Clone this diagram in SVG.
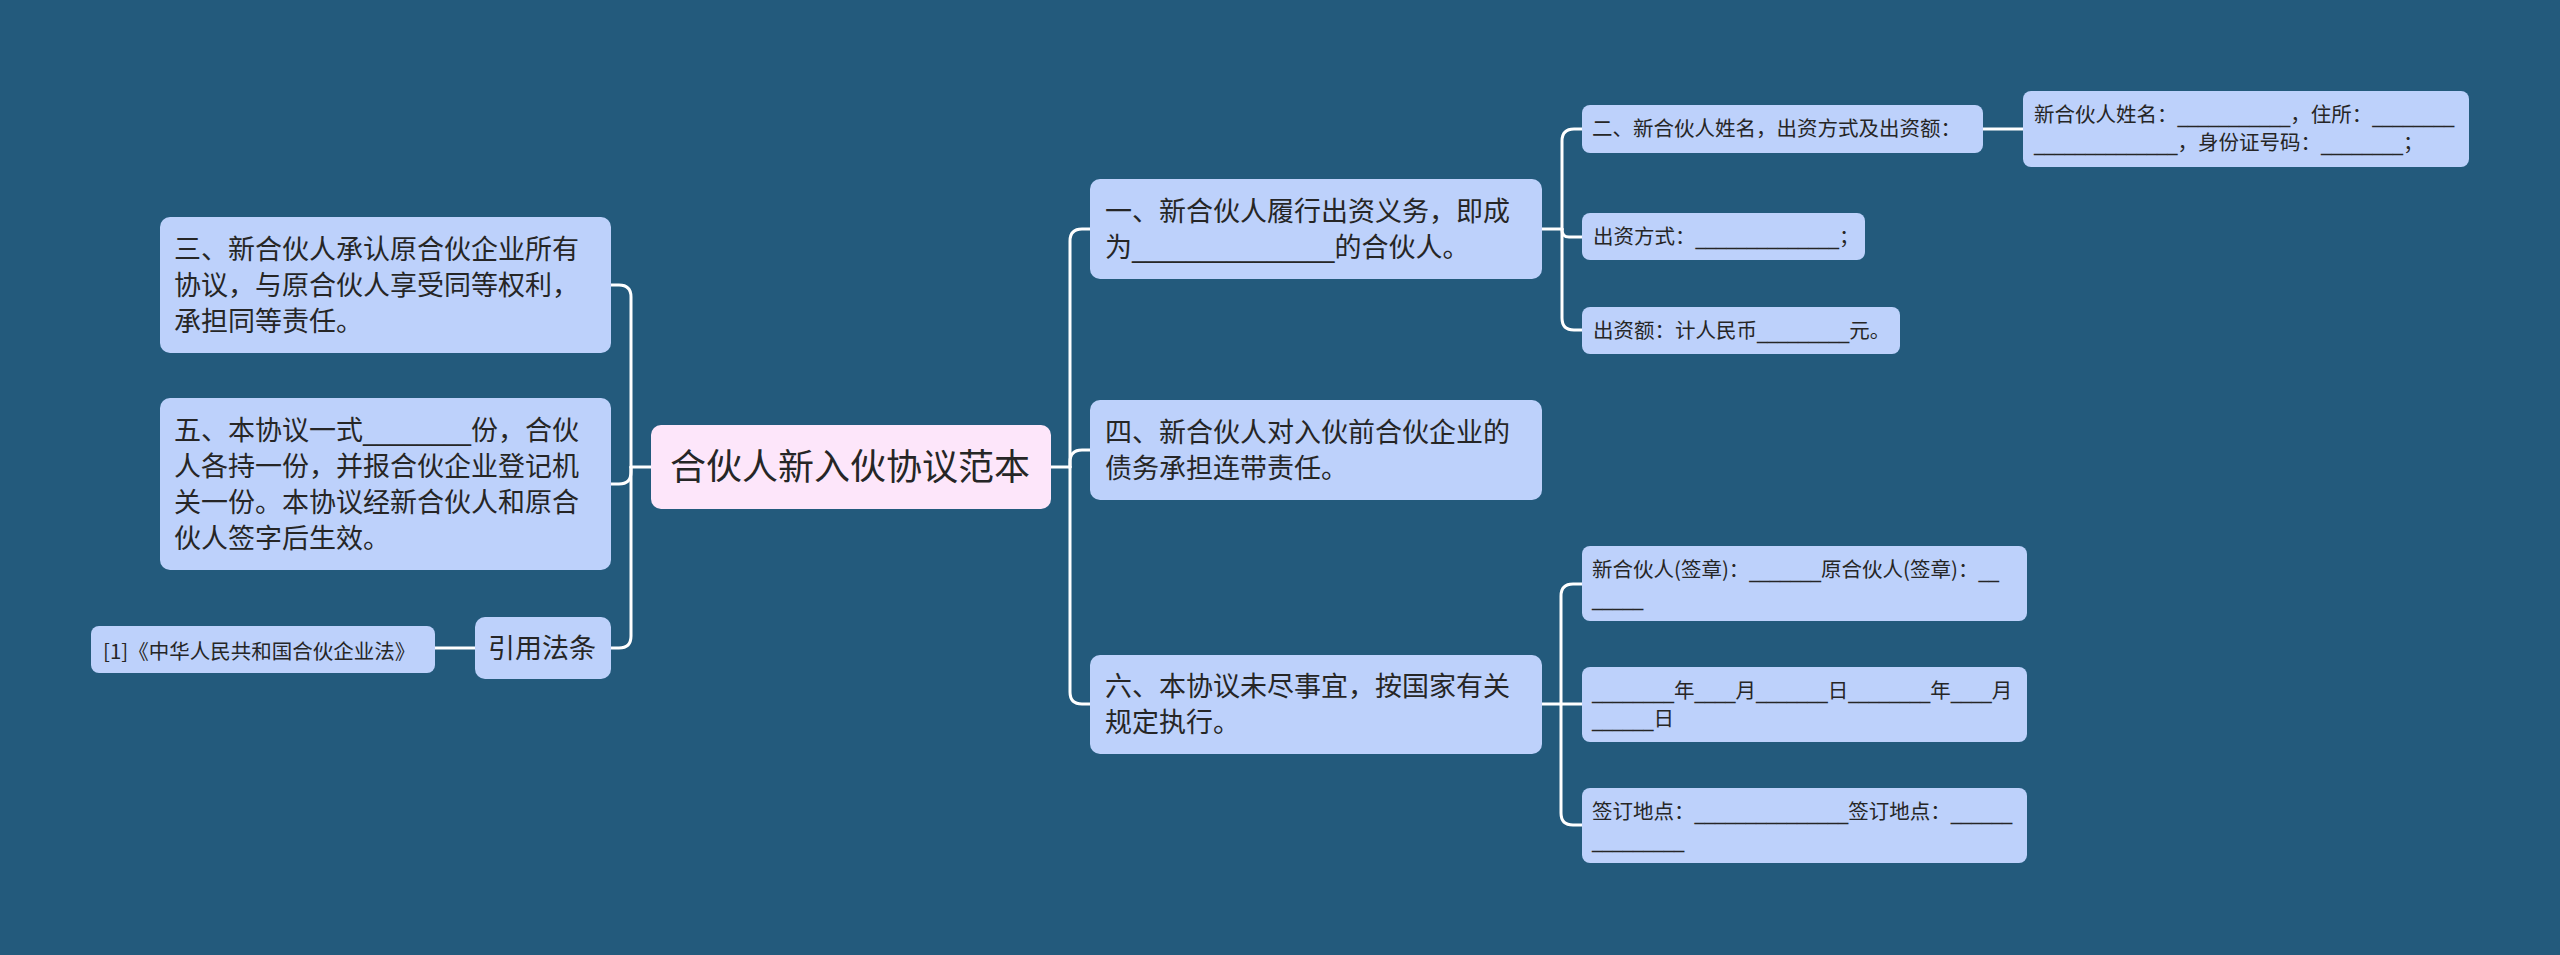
<svg xmlns="http://www.w3.org/2000/svg" width="2560" height="955" viewBox="0 0 2560 955">
<style>
.n{fill:#bdd1fb;}
.r{fill:#fde6fa;}
.t{font-family:"Noto Sans CJK SC","Noto Sans",sans-serif;fill:#262626;}
.u{font-family:"DejaVu Sans",sans-serif;}
.big{font-size:27px;}
.sm{font-size:20.5px;}
.root{font-size:36px;}
.c{stroke:#ffffff;stroke-width:3;fill:none;stroke-linecap:round;}
</style>
<rect x="0" y="0" width="2560" height="955" fill="#235a7c"/>
<g id="connectors">
<path class="c" d="M651 467 H631"/>
<path class="c" d="M631 467 V297 Q631 285 619 285 H611"/>
<path class="c" d="M631 467 V472 Q631 484 619 484 H611"/>
<path class="c" d="M631 467 V636 Q631 648 619 648 H611"/>
<path class="c" d="M475 648 H435"/>
<path class="c" d="M1051 467 H1070"/>
<path class="c" d="M1070 467 V241 Q1070 229 1082 229 H1090"/>
<path class="c" d="M1070 467 V462 Q1070 450 1082 450 H1090"/>
<path class="c" d="M1070 467 V692 Q1070 704 1082 704 H1090"/>
<path class="c" d="M1542 229 H1562"/>
<path class="c" d="M1562 229 V141 Q1562 129 1574 129 H1582"/>
<path class="c" d="M1562 229 V230 Q1562 237 1569 237 H1582"/>
<path class="c" d="M1562 229 V318 Q1562 330 1574 330 H1582"/>
<path class="c" d="M1983 129 H2023"/>
<path class="c" d="M1542 704 H1561"/>
<path class="c" d="M1561 704 V596 Q1561 584 1573 584 H1582"/>
<path class="c" d="M1561 704 H1582"/>
<path class="c" d="M1561 704 V813 Q1561 825 1573 825 H1582"/>
</g>
<g id="root">
<rect class="r" x="651" y="425" width="400" height="84" rx="10"/>
<text class="t root" x="670" y="480">合伙人新入伙协议范本</text>
</g>
<g id="node-san">
<rect class="n" x="160" y="217" width="451" height="136" rx="10"/>
<text class="t big"><tspan x="174" y="259">三、新合伙人承认原合伙企业所有</tspan><tspan x="174" y="295">协议，与原合伙人享受同等权利，</tspan><tspan x="174" y="331">承担同等责任。</tspan></text>
</g>
<g id="node-wu">
<rect class="n" x="160" y="398" width="451" height="172" rx="10"/>
<text class="t big"><tspan x="174" y="440">五、本协议一式<tspan class="u">________</tspan>份，合伙</tspan><tspan x="174" y="476">人各持一份，并报合伙企业登记机</tspan><tspan x="174" y="512">关一份。本协议经新合伙人和原合</tspan><tspan x="174" y="548">伙人签字后生效。</tspan></text>
</g>
<g id="node-yinyong">
<rect class="n" x="475" y="617" width="136" height="62" rx="10"/>
<text class="t big" x="488" y="658">引用法条</text>
</g>
<g id="node-fa">
<rect class="n" x="91" y="626" width="344" height="47" rx="8"/>
<text class="t sm" x="103" y="659">[1]《中华人民共和国合伙企业法》</text>
</g>
<g id="node-yi">
<rect class="n" x="1090" y="179" width="452" height="100" rx="10"/>
<text class="t big"><tspan x="1105" y="221">一、新合伙人履行出资义务，即成</tspan><tspan x="1105" y="257">为<tspan class="u">_______________</tspan>的合伙人。</tspan></text>
</g>
<g id="node-si">
<rect class="n" x="1090" y="400" width="452" height="100" rx="10"/>
<text class="t big"><tspan x="1105" y="442">四、新合伙人对入伙前合伙企业的</tspan><tspan x="1105" y="478">债务承担连带责任。</tspan></text>
</g>
<g id="node-liu">
<rect class="n" x="1090" y="655" width="452" height="99" rx="10"/>
<text class="t big"><tspan x="1105" y="696">六、本协议未尽事宜，按国家有关</tspan><tspan x="1105" y="732">规定执行。</tspan></text>
</g>
<g id="node-er">
<rect class="n" x="1582" y="105" width="401" height="48" rx="8"/>
<text class="t sm" x="1592" y="136">二、新合伙人姓名，出资方式及出资额：</text>
</g>
<g id="node-xingming">
<rect class="n" x="2023" y="91" width="446" height="76" rx="8"/>
<text class="t sm"><tspan x="2034" y="122">新合伙人姓名：<tspan class="u">___________</tspan>，住所：<tspan class="u">________</tspan></tspan><tspan x="2034" y="150"><tspan class="u">______________</tspan>，身份证号码：<tspan class="u">________</tspan>；</tspan></text>
</g>
<g id="node-fangshi">
<rect class="n" x="1582" y="213" width="283" height="47" rx="8"/>
<text class="t sm" x="1593" y="244">出资方式：<tspan class="u">______________</tspan>；</text>
</g>
<g id="node-e">
<rect class="n" x="1582" y="307" width="318" height="47" rx="8"/>
<text class="t sm" x="1593" y="338">出资额：计人民币<tspan class="u">_________</tspan>元。</text>
</g>
<g id="node-qianzhang">
<rect class="n" x="1582" y="546" width="445" height="75" rx="8"/>
<text class="t sm"><tspan x="1592" y="577">新合伙人(签章)：<tspan class="u">_______</tspan>原合伙人(签章)：<tspan class="u">__</tspan></tspan><tspan x="1592" y="605" class="u">_____</tspan></text>
</g>
<g id="node-riqi">
<rect class="n" x="1582" y="667" width="445" height="75" rx="8"/>
<text class="t sm"><tspan x="1592" y="698"><tspan class="u">________</tspan>年<tspan class="u">____</tspan>月<tspan class="u">_______</tspan>日<tspan class="u">________</tspan>年<tspan class="u">____</tspan>月</tspan><tspan x="1592" y="726"><tspan class="u">______</tspan>日</tspan></text>
</g>
<g id="node-didian">
<rect class="n" x="1582" y="788" width="445" height="75" rx="8"/>
<text class="t sm"><tspan x="1592" y="819">签订地点：<tspan class="u">_______________</tspan>签订地点：<tspan class="u">______</tspan></tspan><tspan x="1592" y="847" class="u">_________</tspan></text>
</g>
</svg>
